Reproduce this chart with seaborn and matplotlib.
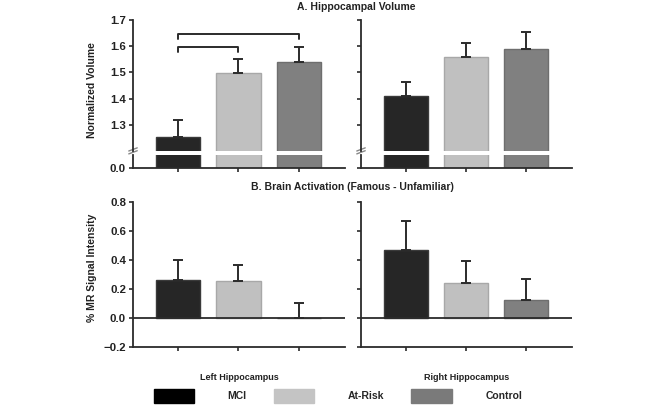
import numpy as np
import pandas as pd
import matplotlib
matplotlib.use("Agg")
import matplotlib.pyplot as plt
import seaborn as sns
from matplotlib.patches import Patch

groups = ["MCI", "At-Risk", "Control"]
group_colors = ["#262626", "#c0c0c0", "#808080"]
edge_colors = ["#3a3a3a", "#a8a8a8", "#6e6e6e"]

# A. hippocampal volume (mean, upper error)
vol_left = [1.255, 1.496, 1.541]
vol_left_err = [0.063, 0.057, 0.055]
vol_right = [1.41, 1.559, 1.589]
vol_right_err = [0.055, 0.054, 0.064]

# B. brain activation
act_left = [0.263, 0.256, 0.0]
act_left_err = [0.137, 0.110, 0.100]
act_right = [0.469, 0.242, 0.126]
act_right_err = [0.199, 0.151, 0.144]

# significance brackets on left volume panel: (from, to, height, drop)
brackets = [(0, 1, 1.598, 0.021), (0, 2, 1.647, 0.020)]

sns.set_style("white")
plt.rcParams['font.family'] = ['Liberation Sans', 'DejaVu Sans']
plt.rcParams['font.weight'] = 'bold'
plt.rcParams['axes.labelweight'] = 'bold'

fig = plt.figure(figsize=(6.61, 4.09), dpi=100)
W, H = 661, 409


def rect(x0, x1, ytop, ybot):
    return [x0 / W, 1 - ybot / H, (x1 - x0) / W, (ybot - ytop) / H]


spine_c = "#2b2b2b"
fs = 7.5
tick_fs = 8.2


def style(ax, show_labels):
    for s in ["top", "right"]:
        ax.spines[s].set_visible(False)
    for s in ["left", "bottom"]:
        ax.spines[s].set_linewidth(1.3)
        ax.spines[s].set_color(spine_c)
    ax.tick_params(axis="both", direction="out", length=3, width=1.2,
                   color=spine_c, labelsize=tick_fs, pad=2, labelcolor="#222222")
    ax.tick_params(axis="y", left=True)
    ax.tick_params(axis="x", bottom=True)
    if not show_labels:
        ax.set_yticklabels([])
    ax.set_xlabel("")
    ax.set_ylabel("")


def bars(ax, vals, errs, with_err=True):
    df = pd.DataFrame({"group": groups, "value": vals})
    sns.barplot(data=df, x="group", y="value", hue="group", order=groups,
                hue_order=groups, palette=group_colors, legend=False,
                width=0.73, errorbar=None, ax=ax, linewidth=1)
    for p, ec in zip(ax.patches, edge_colors):
        p.set_edgecolor(ec)
    if with_err:
        xs = np.arange(len(groups))
        ax.errorbar(xs, vals, yerr=[np.zeros(len(errs)), errs], fmt="none",
                    ecolor=spine_c, elinewidth=1.4, capsize=3.5, capthick=1.4,
                    zorder=1)
    ax.set_xlim(-0.74, 2.76)


panels_x = [(133, 345), (361, 572)]
vol_data = [(vol_left, vol_left_err), (vol_right, vol_right_err)]
act_data = [(act_left, act_left_err), (act_right, act_right_err)]

for i, ((x0, x1), (v, e), (a, ae)) in enumerate(zip(panels_x, vol_data, act_data)):
    # upper part of broken axis
    ax_u = fig.add_axes(rect(x0, x1, 20, 151))
    bars(ax_u, v, e)
    ax_u.set_ylim(1.2, 1.7)
    ax_u.set_yticks([1.3, 1.4, 1.5, 1.6, 1.7])
    ax_u.set_yticklabels(["1.3", "1.4", "1.5", "1.6", "1.7"])
    style(ax_u, i == 0)
    ax_u.spines["bottom"].set_visible(False)
    ax_u.tick_params(axis="x", bottom=False, labelbottom=False)

    # lower part of broken axis
    ax_l = fig.add_axes(rect(x0, x1, 155, 168))
    bars(ax_l, v, e, with_err=False)
    ax_l.set_ylim(0, 0.05)
    ax_l.set_yticks([0.0])
    ax_l.set_yticklabels(["0.0"])
    style(ax_l, i == 0)
    ax_l.set_xticklabels([])

    # break marks on the y spine
    for yy in (-0.01, 0.012):
        ax_u.plot([-0.02, 0.02], [yy - 0.012, yy + 0.012], transform=ax_u.transAxes,
                  color="#888888", lw=1.0, clip_on=False)

    if i == 0:
        for g0, g1, hh, dd in brackets:
            ax_u.plot([g0, g0, g1, g1], [hh - dd, hh, hh, hh - dd],
                      color=spine_c, lw=1.4, clip_on=False)

    # activation panel
    ax_b = fig.add_axes(rect(x0, x1, 201.7, 347))
    bars(ax_b, a, ae)
    ax_b.axhline(0, color=spine_c, lw=1.3, zorder=3)
    ax_b.set_ylim(-0.2, 0.8)
    ax_b.set_yticks([-0.2, 0.0, 0.2, 0.4, 0.6, 0.8])
    ax_b.set_yticklabels(["\u22120.2", "0.0", "0.2", "0.4", "0.6", "0.8"])
    style(ax_b, i == 0)
    ax_b.set_xticklabels([])

fig.text(356 / W, 1 - 7 / H, "A. Hippocampal Volume", ha="center", va="center",
         fontsize=fs, fontweight="bold", color="#222222")
fig.text(352 / W, 1 - 187 / H, "B. Brain Activation (Famous - Unfamiliar)",
         ha="center", va="center", fontsize=fs, fontweight="bold", color="#222222")
fig.text(92 / W, 1 - 90 / H, "Normalized Volume", rotation=90, ha="center",
         va="center", fontsize=fs, fontweight="bold", color="#222222")
fig.text(92 / W, 1 - 268 / H, "% MR Signal Intensity", rotation=90, ha="center",
         va="center", fontsize=fs, fontweight="bold", color="#222222")
fig.text(239 / W, 1 - 377 / H, "Left Hippocampus", ha="center", va="center",
         fontsize=6.5, fontweight="bold", color="#222222")
fig.text(467 / W, 1 - 377 / H, "Right Hippocampus", ha="center", va="center",
         fontsize=6.5, fontweight="bold", color="#222222")

handles = [Patch(facecolor=c, edgecolor=c) for c in ["#000000", "#c4c4c4", "#7a7a7a"]]
fig.legend(handles, groups, loc="center", bbox_to_anchor=(338 / W, 1 - 396 / H),
           ncol=3, frameon=False, fontsize=fs, handlelength=3.9, handleheight=1.7,
           handletextpad=3.2, columnspacing=2.6)

fig.savefig("out.png", dpi=100)
